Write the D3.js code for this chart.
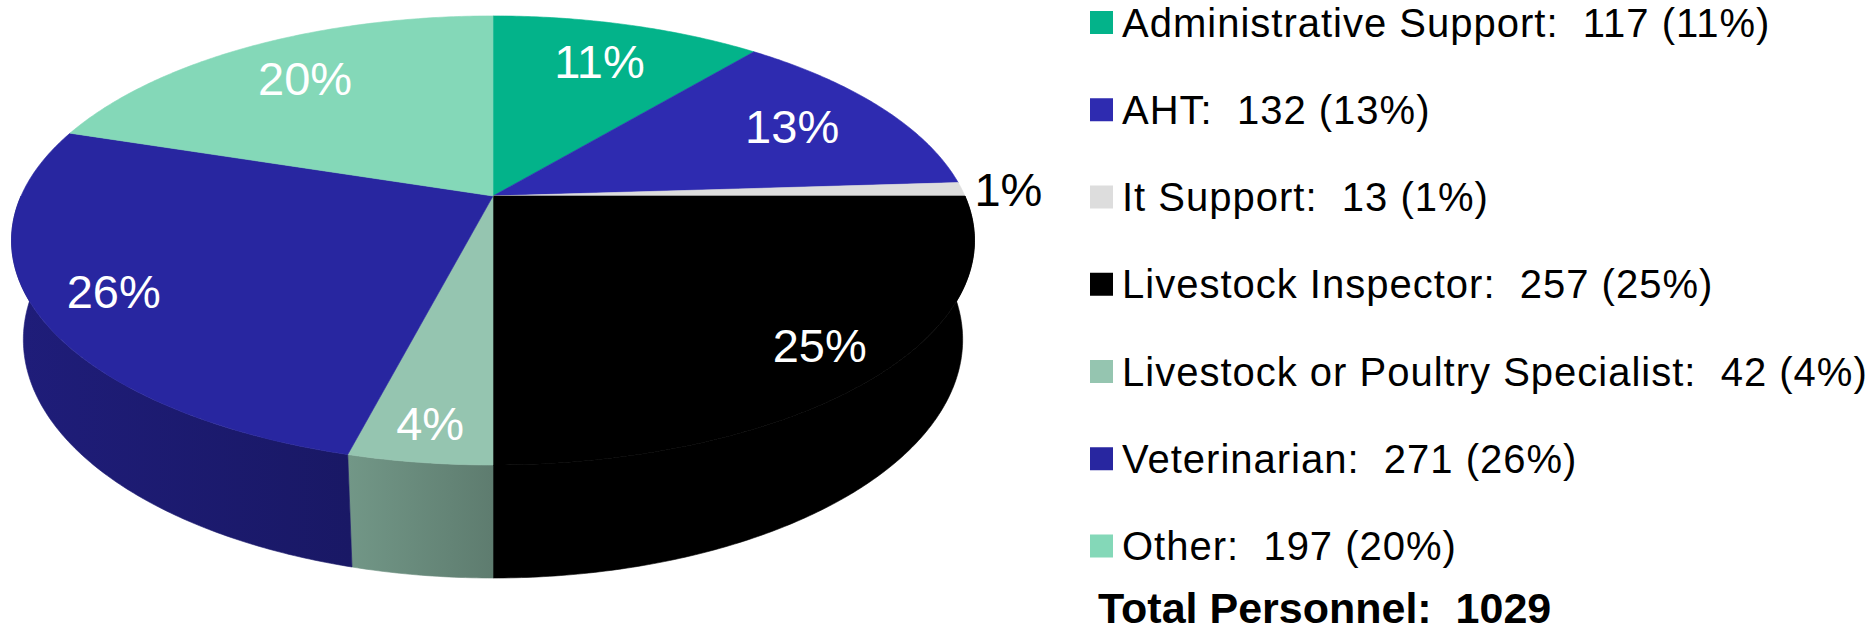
<!DOCTYPE html>
<html>
<head>
<meta charset="utf-8">
<script src="https://cdn.jsdelivr.net/npm/d3@7"></script>
<style>
  body { margin: 0; background: #fff; }
  svg { display: block; font-family: "Liberation Sans", Arial, sans-serif; }
</style>
</head>
<body>
<div id="display"></div>
<script>
const width = 1873, height = 634

// data
const categories = ["Administrative Support", "AHT", "It Support", "Livestock Inspector",
                    "Livestock or Poultry Specialist", "Veterinarian", "Other"]
const counts = [117, 132, 13, 257, 42, 271, 197]
// the slices are drawn from the rounded percentages
const percents = [11, 13, 1, 25, 4, 26, 20]
const totalLabel = "Total Personnel:  1029"

const colors = ["#03B38A", "#2E2BB0", "#DDDDDD", "#000000", "#95C5B0", "#2826A0", "#84D8B8"]

const svg = d3.select('#display').append("svg")
    .attr('width', width)
    .attr('height', height)

// perspective camera for the tilted pie
const cx = 493, cy = 196
const tilt = 27.2 * Math.PI / 180
const sn = Math.sin(tilt), cs = Math.cos(tilt)
const dist = 4.492, focal = 2120, thick = 0.238

// t: clockwise angle from the far point, k: radius fraction, z: height (0 = top)
function proj(t, k, z) {
    const wx = k * Math.sin(t), wy = k * Math.cos(t)
    const depth = wy * cs - z * sn + dist
    return [cx + focal * wx / depth, cy - focal * (wy * sn + z * cs) / depth]
}

const pie = d3.pie().sort(null).value(d => d.pct)
const slices = pie(categories.map((c, i) => ({name: c, count: counts[i], pct: percents[i], color: colors[i]})))

function arcPoints(a0, a1, z) {
    const n = Math.max(2, Math.ceil((a1 - a0) / 0.01))
    return d3.range(n + 1).map(j => proj(a0 + (a1 - a0) * j / n, 1, z))
}

const defs = svg.append("defs")
const line = d3.line()

// side walls, only the half facing the viewer
const sides = svg.append("g")
slices.forEach((s, i) => {
    const a0 = Math.max(s.startAngle, Math.PI / 2)
    const a1 = Math.min(s.endAngle, Math.PI * 1.5)
    if (a1 <= a0) return
    const top = arcPoints(a0, a1, 0)
    const bottom = arcPoints(a0, a1, -thick).reverse()
    const pts = top.concat(bottom)
    const xs = d3.extent(pts, p => p[0])
    const base = d3.color(s.data.color)
    const grad = defs.append("linearGradient")
        .attr("id", "side" + i)
        .attr("gradientUnits", "userSpaceOnUse")
        .attr("x1", xs[0]).attr("x2", xs[1])
        .attr("y1", 0).attr("y2", 0)
    grad.append("stop").attr("offset", 0).attr("stop-color", base.darker(0.75))
    grad.append("stop").attr("offset", 1).attr("stop-color", base.darker(1.3))
    sides.append("path")
        .attr("d", line(pts) + "Z")
        .attr("fill", "url(#side" + i + ")")
        .attr("stroke", "url(#side" + i + ")")
        .attr("stroke-width", 0.6)
})

// top faces
const tops = svg.append("g")
slices.forEach(s => {
    const pts = [proj(0, 0, 0)].concat(arcPoints(s.startAngle, s.endAngle, 0))
    tops.append("path")
        .attr("d", line(pts) + "Z")
        .attr("fill", s.data.color)
        .attr("stroke", s.data.color)
        .attr("stroke-width", 0.6)
})

// percent labels
svg.append("g").selectAll("text").data(slices)
    .enter()
    .append("text")
        .each(function(s) {
            const mid = (s.startAngle + s.endAngle) / 2
            const small = s.data.pct < 2
            const k = small ? 1.1 : 0.76 + 0.12 * Math.sqrt(Math.max(0, -Math.cos(mid)))
            const p = proj(mid, k, 0)
            d3.select(this)
                .attr("x", p[0])
                .attr("y", p[1])
                .attr("fill", small ? "#000" : "#fff")
        })
        .attr("dy", "0.36em")
        .attr("text-anchor", "middle")
        .style("font-size", "47px")
        .text(s => s.data.pct + "%")

// legend
const rowY = d3.scaleLinear().domain([0, 1]).range([22.5, 109.75])
const legend = svg.append("g")
const rows = legend.selectAll("g").data(slices)
    .enter()
    .append("g")
        .attr("transform", (s, i) => "translate(1090," + rowY(i) + ")")
rows.append("rect")
    .attr("x", 0)
    .attr("y", -11.5)
    .attr("width", 23)
    .attr("height", 23)
    .attr("fill", s => s.data.color)
rows.append("text")
    .attr("x", 32)
    .attr("y", 14)
    .style("font-size", "40px")
    .style("letter-spacing", "1px")
    .style("white-space", "pre")
    .text(s => s.data.name + ":  " + s.data.count + " (" + s.data.pct + "%)")

legend.append("text")
    .attr("x", 1098)
    .attr("y", 623)
    .style("font-size", "43px")
    .style("font-weight", "bold")
    .style("white-space", "pre")
    .text(totalLabel)
</script>
</body>
</html>
